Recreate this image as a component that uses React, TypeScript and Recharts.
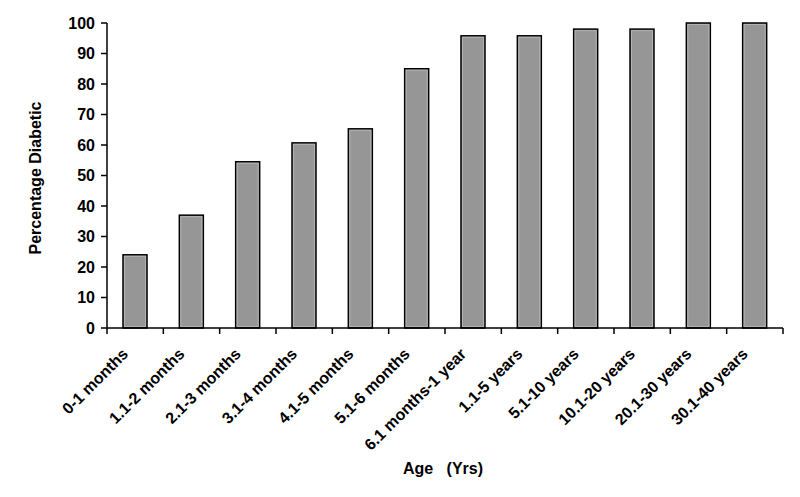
import React from 'react'
import { BarChart, Bar, XAxis, YAxis, Label } from 'recharts'

// Percentage diabetic by age group
const AGE_GROUPS = [
  '0-1 months',
  '1.1-2 months',
  '2.1-3 months',
  '3.1-4 months',
  '4.1-5 months',
  '5.1-6 months',
  '6.1 months-1 year',
  '1.1-5 years',
  '5.1-10 years',
  '10.1-20 years',
  '20.1-30 years',
  '30.1-40 years',
]
const PCT_DIABETIC = [24, 37, 54.5, 60.7, 65.3, 85, 95.8, 95.8, 98, 98, 100, 100]
const Y_TICKS = [0, 10, 20, 30, 40, 50, 60, 70, 80, 90, 100]

const W = 800
const H = 497
const MARGIN = { top: 23, right: 17, left: 0, bottom: 0 }
const Y_AXIS_W = 107
const X_AXIS_H = 169
const BAND = (W - MARGIN.left - MARGIN.right - Y_AXIS_W) / AGE_GROUPS.length
const FONT = 'Arial, "Liberation Sans", Helvetica, sans-serif'

const data = AGE_GROUPS.map((age, i) => ({ age, pct: PCT_DIABETIC[i] }))

// category label rotated 45°, tick marks on the band edges (Excel style)
function AgeTick(props: any) {
  const { x, y, payload, index } = props
  const last = index === AGE_GROUPS.length - 1
  return (
    <g>
      <line x1={x - BAND / 2} y1={y} x2={x - BAND / 2} y2={y + 6} stroke="#000" strokeWidth={1.5} />
      {last && <line x1={x + BAND / 2} y1={y} x2={x + BAND / 2} y2={y + 6} stroke="#000" strokeWidth={1.5} />}
      <text
        transform={`translate(${x - 6},${y + 27}) rotate(-45)`}
        textAnchor="end"
        fontFamily={FONT}
        fontWeight="bold"
        fontSize={16}
        fill="#000"
      >
        {payload.value}
      </text>
    </g>
  )
}

// grey bar with black outline and a faint lighter inner edge
function GreyBar(props: any) {
  const { x, y, width, height } = props
  if (!height || height <= 0) return null
  return (
    <g>
      <rect x={x} y={y} width={width} height={height} fill="#969696" stroke="#000" strokeWidth={1.5} />
      <rect
        x={x + 1.5}
        y={y + 1.5}
        width={Math.max(0, width - 3)}
        height={Math.max(0, height - 3)}
        fill="none"
        stroke="#b2b2b2"
        strokeWidth={1}
      />
    </g>
  )
}

export default function App() {
  return (
    <div style={{ position: 'absolute', left: 0, top: 0, width: W, height: H, background: '#fff' }}>
      <BarChart width={W} height={H} data={data} margin={MARGIN}>
        <XAxis
          dataKey="age"
          interval={0}
          height={X_AXIS_H}
          tickSize={0}
          tickMargin={0}
          tick={<AgeTick />}
          axisLine={{ stroke: '#000', strokeWidth: 1.5 }}
        >
          <Label
            content={() => (
              <text
                x={443}
                y={474}
                textAnchor="middle"
                fontFamily={FONT}
                fontWeight="bold"
                fontSize={16}
                fill="#000"
                style={{ whiteSpace: 'pre' }}
              >
                {'Age   (Yrs)'}
              </text>
            )}
          />
        </XAxis>
        <YAxis
          width={Y_AXIS_W}
          domain={[0, 100]}
          ticks={Y_TICKS}
          interval={0}
          tickSize={6}
          tickMargin={6}
          axisLine={{ stroke: '#000', strokeWidth: 1.5 }}
          tickLine={{ stroke: '#000', strokeWidth: 1.5 }}
          tick={{ fill: '#000', fontSize: 16, fontWeight: 'bold', fontFamily: FONT }}
        >
          <Label
            content={() => (
              <text
                transform="translate(41,178) rotate(-90)"
                textAnchor="middle"
                fontFamily={FONT}
                fontWeight="bold"
                fontSize={16}
                fill="#000"
              >
                Percentage Diabetic
              </text>
            )}
          />
        </YAxis>
        <Bar dataKey="pct" barSize={24} shape={<GreyBar />} isAnimationActive={false} />
      </BarChart>
    </div>
  )
}
